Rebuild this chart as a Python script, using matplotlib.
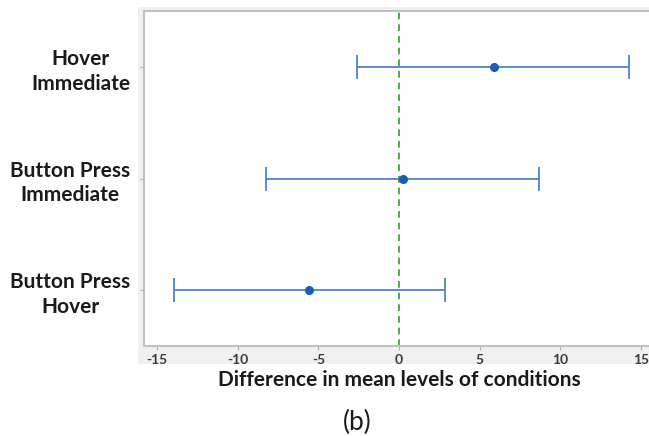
import matplotlib.pyplot as plt
from matplotlib.patches import Rectangle

# comparisons (top to bottom) and their intervals
comparisons = ["Hover\nImmediate", "Button Press\nImmediate", "Button Press\nHover"]
means = [5.9, 0.25, -5.6]
lower = [-2.6, -8.25, -13.95]
upper = [14.25, 8.65, 2.85]
xticks = [-15, -10, -5, 0, 5, 10, 15]

plt.rcParams['font.family'] = ['Lato', 'DejaVu Sans']

fig = plt.figure(figsize=(6.49, 4.36), dpi=100)
fig.patch.set_facecolor('white')

# light gray panel behind the plot (screenshot look)
W, H = 649, 436
fig.patches.append(Rectangle((138 / W, 1 - 364 / H), 1 - 138 / W, (364 - 7) / H,
                             transform=fig.transFigure, facecolor='#f0f0f0',
                             edgecolor='none', zorder=-5))

ax = fig.add_axes([144 / W, 1 - 346 / H, 1.02 - 144 / W, (346 - 11) / H])
ax.set_zorder(2)
ax.set_facecolor('white')

ypos = [3, 2, 1]
xerr = [[m - lo for m, lo in zip(means, lower)], [hi - m for m, hi in zip(means, upper)]]
ax.errorbar(means, ypos, xerr=xerr, fmt='o', color='#1a5cb8', ecolor='#4a86c4',
            elinewidth=1.3, capsize=8.5, capthick=1.3, markersize=5.5, zorder=3)

ax.axvline(0, color='#2ca02c', linestyle=(0, (4, 3)), linewidth=1.2, zorder=2)

ax.set_xlim(-15.81, 16.3)
ax.set_ylim(0.5, 3.5)
ax.set_xticks(xticks)
ax.set_xticklabels([str(t) for t in xticks], fontsize=10, fontweight='bold', color='#3a3a3a')
ax.set_yticks(ypos)
ax.set_yticklabels(comparisons, fontsize=15, fontweight='bold', color='#1a1a1a',
                   multialignment='center', linespacing=1.3)
ax.tick_params(axis='x', length=3, color='#b0b0b0', pad=3)
ax.tick_params(axis='y', length=3, color='#b0b0b0', pad=7)

for s in ax.spines.values():
    s.set_color('#c0c0c0')
    s.set_linewidth(1.5)

fig.text(399 / W, 1 - 380 / H, "Difference in mean levels of conditions",
         ha='center', va='center', fontsize=15, fontweight='bold', color='#1a1a1a')
fig.text(357 / W, 1 - 422 / H, "(b)", ha='center', va='center', fontsize=19, color='#1a1a1a')

fig.savefig('out.png', dpi=100, facecolor='white')
